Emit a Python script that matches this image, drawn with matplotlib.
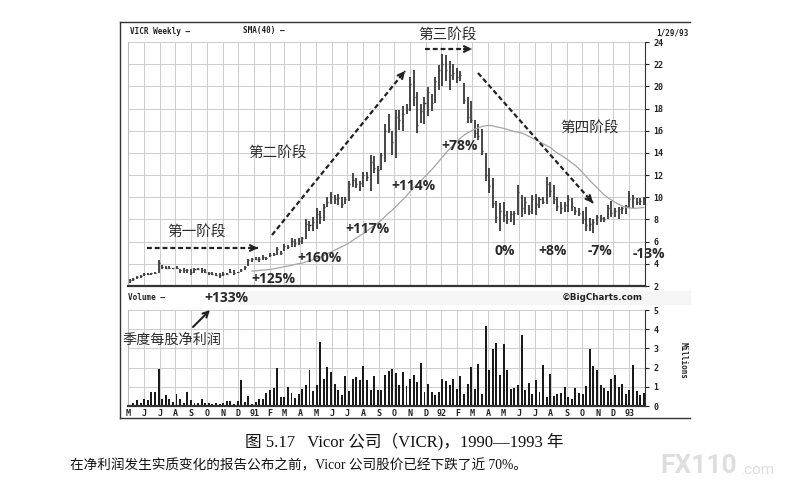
import numpy as np
import pandas as pd
import matplotlib
matplotlib.use('Agg')
import matplotlib.pyplot as plt
import matplotlib.dates as mdates
from matplotlib.ticker import FuncFormatter

plt.rcParams['font.family'] = 'DejaVu Sans Mono'
plt.rcParams['font.weight'] = 'bold'

# VICR weekly bars, 5/4/90 .. 1/29/93
weeks = pd.date_range('1990-05-04', periods=144, freq='W-FRI')

hi = [2.6, 2.75, 2.9, 3.0, 3.2, 3.2, 3.2, 3.3, 4.3, 3.9,
      3.8, 3.8, 3.65, 3.8, 3.5, 3.6, 3.5, 3.5, 3.6, 3.6,
      3.6, 3.5, 3.3, 3.3, 3.2, 3.2, 3.3, 3.2, 3.5, 3.4,
      3.3, 3.5, 3.8, 4.4, 4.5, 4.6, 4.6, 4.8, 4.6, 5.0,
      5.0, 5.5, 5.2, 5.8, 5.7, 6.3, 6.2, 6.3, 6.4, 8.0,
      7.9, 8.2, 9.0, 8.8, 9.4, 10.0, 10.5, 10.2, 10.3, 10.0,
      10.0, 11.5, 12.2, 11.7, 11.5, 12.3, 12.3, 13.8, 13.7, 12.8,
      14.0, 16.6, 17.5, 16.0, 17.9, 17.9, 18.2, 18.4, 20.8, 21.5,
      19.5, 18.4, 19.0, 19.9, 19.3, 20.8, 21.9, 22.9, 22.8, 22.3,
      22.0, 21.7, 21.4, 20.3, 19.0, 18.7, 17.0, 16.6, 16.2, 14.0,
      12.6, 11.7, 9.7, 9.5, 9.6, 8.8, 8.8, 8.8, 11.1, 10.2,
      10.0, 9.3, 10.2, 10.3, 10.0, 10.0, 11.8, 11.4, 11.1, 10.0,
      9.6, 9.6, 10.2, 9.9, 9.1, 9.0, 8.8, 9.1, 8.1, 8.0,
      8.4, 8.4, 8.2, 9.3, 9.7, 9.0, 9.1, 9.1, 9.3, 10.6,
      10.2, 9.9, 9.9, 10.0]
lo = [2.3, 2.45, 2.6, 2.7, 2.9, 3.0, 3.0, 3.1, 3.2, 3.5,
      3.5, 3.5, 3.5, 3.5, 3.2, 3.2, 3.2, 3.0, 3.2, 3.4,
      3.2, 3.2, 3.0, 3.0, 2.9, 2.7, 2.9, 3.0, 3.2, 3.0,
      3.2, 3.3, 3.4, 3.8, 4.2, 4.3, 4.2, 4.3, 4.3, 4.6,
      4.7, 4.8, 4.8, 5.2, 5.3, 5.5, 5.5, 5.7, 5.8, 6.2,
      7.0, 7.0, 7.1, 7.6, 7.9, 9.1, 9.4, 9.4, 9.3, 9.0,
      9.4, 9.7, 10.9, 10.8, 10.6, 10.9, 11.5, 10.6, 12.2, 11.2,
      12.5, 13.2, 15.8, 13.8, 13.5, 16.1, 16.0, 17.5, 17.8, 18.2,
      15.8, 16.7, 16.6, 17.3, 17.8, 18.5, 19.7, 20.0, 20.5, 19.7,
      20.6, 20.3, 20.5, 18.4, 16.7, 16.7, 15.3, 15.2, 13.8, 11.5,
      10.4, 9.0, 7.7, 7.0, 7.8, 7.6, 7.8, 7.5, 8.4, 8.2,
      8.5, 8.4, 8.5, 8.4, 9.0, 9.4, 9.4, 10.0, 9.4, 8.8,
      8.5, 8.7, 8.7, 8.8, 8.4, 8.3, 7.6, 7.0, 7.0, 6.8,
      7.5, 7.8, 7.8, 8.0, 8.2, 8.2, 8.0, 8.5, 8.5, 9.0,
      9.0, 9.3, 9.3, 9.3]
cl = [2.5, 2.6, 2.8, 2.9, 3.1, 3.1, 3.15, 3.2, 4.1, 3.7,
      3.6, 3.6, 3.6, 3.6, 3.4, 3.4, 3.4, 3.3, 3.5, 3.5,
      3.4, 3.3, 3.2, 3.1, 3.0, 3.0, 3.1, 3.1, 3.3, 3.2,
      3.3, 3.4, 3.7, 4.3, 4.4, 4.4, 4.4, 4.6, 4.5, 4.8,
      4.9, 5.3, 5.0, 5.6, 5.5, 6.1, 5.9, 6.1, 6.3, 7.6,
      7.5, 7.8, 8.5, 8.2, 9.1, 9.6, 10.0, 9.8, 9.9, 9.4,
      9.8, 11.2, 11.6, 11.2, 11.3, 12.0, 11.8, 13.2, 12.6, 12.5,
      13.8, 16.0, 16.2, 15.0, 17.2, 17.0, 17.5, 18.0, 20.2, 19.0,
      16.5, 17.8, 18.5, 19.5, 18.5, 20.5, 21.5, 22.0, 21.5, 21.0,
      21.2, 20.8, 21.0, 18.8, 17.2, 17.0, 15.8, 15.5, 14.2, 12.0,
      11.0, 9.5, 8.2, 8.8, 8.4, 8.0, 8.5, 8.6, 10.5, 9.0,
      9.6, 8.8, 9.8, 9.4, 9.8, 9.6, 11.2, 10.6, 9.8, 9.2,
      9.0, 9.3, 9.8, 9.2, 8.8, 8.6, 8.0, 7.5, 7.6, 7.8,
      8.2, 8.1, 8.0, 9.0, 8.6, 8.8, 8.9, 9.0, 9.2, 9.8,
      9.9, 9.6, 9.7, 9.8]
# volume, millions of shares
vol = [0.05, 0.14, 0.31, 0.14, 0.39, 0.31, 0.74, 0.74, 1.93, 0.39,
       0.56, 0.34, 0.22, 0.65, 0.34, 0.14, 0.74, 0.31, 0.14, 0.14,
       0.39, 0.17, 0.14, 0.10, 0.14, 0.10, 0.14, 0.26, 0.26, 0.10,
       0.26, 1.33, 0.22, 0.51, 0.10, 0.22, 0.39, 0.39, 0.68, 0.85,
       0.96, 1.98, 0.48, 0.48, 0.99, 0.68, 0.44, 0.65, 0.90, 1.08,
       1.88, 0.79, 1.08, 3.33, 1.42, 2.02, 1.76, 1.16, 0.85, 0.56,
       1.54, 0.79, 1.42, 1.50, 1.33, 2.10, 1.37, 0.85, 1.54, 0.85,
       0.82, 1.59, 1.81, 1.93, 1.71, 1.08,
       1.76, 1.03, 1.42, 1.64, 1.25, 2.22, 0.74, 1.13, 0.74, 0.56,
       0.74, 1.42, 1.30, 1.08, 1.42, 0.87, 1.56, 0.65, 1.13, 2.05,
       0.87, 2.19, 0.65, 4.19, 1.88, 2.96, 3.30, 1.59, 3.25, 1.88,
       0.90, 0.96, 1.08, 3.68, 0.82, 1.20, 0.65, 1.37, 0.74, 2.15,
       0.48, 1.68, 0.53, 0.62, 0.70, 0.99, 0.48, 0.34, 0.96, 0.68,
       0.62, 1.03, 2.99, 2.10, 1.90, 1.08, 0.96, 0.79, 1.42, 1.62,
       0.99, 1.13, 0.62, 0.85, 2.15, 0.79, 0.56, 0.68]

price_ticks = [2, 4, 6, 8, 10, 12, 14, 16, 18, 20, 22, 24]
vol_ticks = [0, 1, 2, 3, 4, 5]
month_letters = 'JFMAMJJASOND'

W, H = 793, 487
def box(l, t, r, b):
    return [l / W, 1 - b / H, (r - l) / W, (b - t) / H]

fig = plt.figure(figsize=(W / 100, H / 100), dpi=100)
ax = fig.add_axes(box(128, 42, 645, 286))
axv = fig.add_axes(box(128, 310, 645, 406), sharex=ax)

x = mdates.date2num(weeks)
bar_c = '#383838'
ax.vlines(x, lo, hi, color=bar_c, lw=1.3)
ax.hlines(cl, x, x + 2.0, color=bar_c, lw=1.0)
sma = pd.Series(cl).rolling(window=40, min_periods=35).mean()
ax.plot(x, sma, color='#a5a5a5', lw=0.9)

axv.bar(x, vol, width=3.8, color='#1a1a1a')

ax.set_xlim(x[0] - 3.5, x[-1] + 2.5)
ax.set_ylim(2, 24)
axv.set_ylim(0, 5)
ax.set_yticks(price_ticks)
axv.set_yticks(vol_ticks)
ax.xaxis.set_major_locator(mdates.MonthLocator())

def month_fmt(v, pos):
    d = mdates.num2date(v)
    return '%02d' % (d.year % 100) if d.month == 1 else month_letters[d.month - 1]
axv.xaxis.set_major_formatter(FuncFormatter(month_fmt))

for a in (ax, axv):
    a.grid(True, color='#cdcdcd', lw=0.7)
    a.set_axisbelow(True)
    a.yaxis.tick_right()
    a.tick_params(axis='y', length=3, width=0.8, labelsize=6, pad=3, colors='#222222')
    a.spines['top'].set_visible(False)
    a.spines['left'].set_color('#bbbbbb')
    a.spines['right'].set_color('#333333')
    a.spines['bottom'].set_color('#333333')
    a.spines['bottom'].set_linewidth(1.6)
ax.tick_params(axis='x', length=0, labelbottom=False)
axv.tick_params(axis='x', length=0, labelsize=6, pad=2, colors='#222222')

# overlay in pixel coordinates for the frame, headers and notes
ov = fig.add_axes([0, 0, 1, 1])
ov.set_xlim(0, W)
ov.set_ylim(H, 0)
ov.axis('off')

fr = dict(color='#333333', lw=1.0)
ov.plot([120, 690], [22, 22], **fr)
ov.plot([120, 120], [22, 418], **fr)
ov.plot([120, 690], [418, 418], **fr)
ov.add_patch(plt.Rectangle((240, 291), 450, 13, color='#f5f5f5', zorder=0))

hdr = dict(fontsize=5.5, color='#222222', family='DejaVu Sans Mono', weight='bold')
ov.text(130, 31, 'VICR Weekly \u2014', ha='left', va='center', **hdr)
ov.text(243, 31, 'SMA(40) \u2014', ha='left', va='center', **hdr)
ov.text(689, 33, '1/29/93', ha='right', va='center', **hdr)
ov.text(128, 298, 'Volume \u2014', ha='left', va='center', **hdr)
ov.text(643, 298, '\u00a9BigCharts.com', ha='right', fontsize=6.3, color='#222222',
        va='center', family='DejaVu Sans', weight='bold')
ov.text(683, 360, 'Millions', rotation=-90, ha='center', va='center', **hdr)

cjk = dict(family=['Noto Sans CJK SC', 'DejaVu Sans'], weight='normal', color='#2a2a2a',
           ha='center', va='center')
ov.text(197, 232, '第一阶段', fontsize=10.5, **cjk)
ov.text(278, 153, '第二阶段', fontsize=10.5, **cjk)
ov.text(448, 35, '第三阶段', fontsize=10.5, **cjk)
ov.text(590, 128, '第四阶段', fontsize=10.5, **cjk)
ov.text(172, 340, '季度每股净利润', fontsize=10.2, **cjk)

pct = dict(family='Open Sans', weight='bold', fontsize=10, color='#2a2a2a', ha='center', va='center')
ov.text(226, 298, '+133%', **pct)
ov.text(273, 279, '+125%', **pct)
ov.text(320, 258, '+160%', **pct)
ov.text(367, 229, '+117%', **pct)
ov.text(413, 186, '+114%', **pct)
ov.text(460, 146, '+78%', **pct)
ov.text(505, 251, '0%', **pct)
ov.text(553, 251, '+8%', **pct)
ov.text(600, 251, '-7%', **pct)
ov.text(649, 254, '-13%', **pct)

def dashed_arrow(p0, p1):
    ov.plot([p0[0], p1[0]], [p0[1], p1[1]], ls=(0, (2.2, 1.3)), color='#222222', lw=1.6)
    d = np.array(p1, float) - np.array(p0, float)
    d = d / np.hypot(*d)
    ov.annotate('', xy=p1, xytext=(p1[0] - 8 * d[0], p1[1] - 8 * d[1]),
                arrowprops=dict(arrowstyle='->', color='#222222', lw=1.6,
                                mutation_scale=10, shrinkA=0, shrinkB=0))

dashed_arrow((147, 248), (258, 248))
dashed_arrow((272, 235), (405, 71))
dashed_arrow((425, 49), (472, 49))
dashed_arrow((478, 73), (593, 203))
ov.annotate('', xy=(210, 310), xytext=(193, 327),
            arrowprops=dict(arrowstyle='->', color='#222222', lw=1.5,
                            mutation_scale=10, shrinkA=0, shrinkB=0))

cap = dict(family=['Liberation Serif', 'Noto Sans CJK SC'], weight='normal', color='#111111', va='center')
ov.text(404, 441, '图 5.17   Vicor 公司（VICR)，1990—1993 年', ha='center', fontsize=12, **cap)
ov.text(70, 466, '在净利润发生实质变化的报告公布之前，Vicor 公司股价已经下跌了近 70%。',
        ha='left', fontsize=9.8, **cap)

ov.text(660, 466, 'FX110', family='Roboto', weight='bold', fontsize=19, color='#dedede',
        ha='left', va='center')
ov.text(741, 470, '.com', family='Roboto', weight='normal', fontsize=11, color='#dedede',
        ha='left', va='center')

fig.savefig('out.png', dpi=100, facecolor='white')
